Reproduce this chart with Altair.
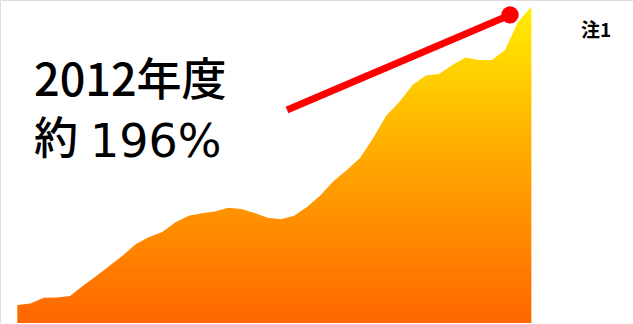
import altair as alt
import pandas as pd

# Fiscal years and index values (%)
years = list(range(1973, 2013))
values = [100, 100.5, 102.3, 102.4, 102.9, 106.3, 109.3, 112.6, 115.9, 119.6,
          121.9, 123.5, 126.6, 128.7, 129.5, 130.1, 131.3, 130.9, 129.6, 128.1,
          127.6, 128.7, 131.6, 135.3, 139.9, 143.5, 147.3, 153.8, 161.0, 165.4,
          170.9, 173.9, 174.4, 177.3, 179.7, 178.9, 178.9, 182.1, 191.2, 196.0]
y_floor = 94.2

# annotation arrow (data coordinates)
arrow_x = [1993.46, 2010.38]
arrow_y = [162.8, 193.4]

label_line1 = "2012年度"
label_approx = "約"
label_pct = "196%"
note_text = "注1"

df = pd.DataFrame({"year": years, "value": values, "floor": [y_floor] * len(years)})
arrow_df = pd.DataFrame({"year": arrow_x, "value": arrow_y})
dot_df = arrow_df.tail(1)

xs = alt.Scale(domain=[1971.687, 2019.71], nice=False, zero=False)
ys = alt.Scale(domain=[94.2, 198.2], nice=False, zero=False)

area = alt.Chart(df).mark_area(
    interpolate="linear",
    color=alt.Gradient(
        gradient="linear",
        stops=[alt.GradientStop(color="#FF6600", offset=0),
               alt.GradientStop(color="#FFA500", offset=0.5),
               alt.GradientStop(color="#FFEE00", offset=1)],
        x1=1, x2=1, y1=1, y2=0,
    ),
).encode(
    x=alt.X("year:Q", scale=xs, axis=None),
    y=alt.Y("value:Q", scale=ys, axis=None),
    y2="floor:Q",
)

arrow = alt.Chart(arrow_df).mark_line(color="#FF0000", strokeWidth=7, strokeCap="butt").encode(
    x=alt.X("year:Q", scale=xs, axis=None),
    y=alt.Y("value:Q", scale=ys, axis=None),
)

dot = alt.Chart(dot_df).mark_point(filled=True, color="#FF0000", size=300, opacity=1, shape="circle").encode(
    x=alt.X("year:Q", scale=xs, axis=None),
    y=alt.Y("value:Q", scale=ys, axis=None),
)

cjk = "Noto Sans CJK JP"


def txt(s, x, y, size, font, weight="normal"):
    return alt.Chart(pd.DataFrame({"t": [s]})).mark_text(
        align="left", baseline="alphabetic", fontSize=size, font=font,
        fontWeight=weight, color="#000000"
    ).encode(x=alt.value(x), y=alt.value(y), text="t:N")


t1 = txt(label_line1, 34, 96, 45, cjk, 500)
t2a = txt(label_approx, 34, 154, 44, cjk, 500)
t2b = txt(label_pct, 90, 157, 46, "DejaVu Sans")
t3 = txt(note_text, 581, 37, 19, cjk, "bold")

chart = alt.layer(area, arrow, dot, t1, t2a, t2b, t3).properties(
    width=633, height=323, autosize="none", padding=0
).configure_view(stroke=None).configure(background="white")

chart.save("out.html", embed_options={"renderer": "svg", "actions": False})
